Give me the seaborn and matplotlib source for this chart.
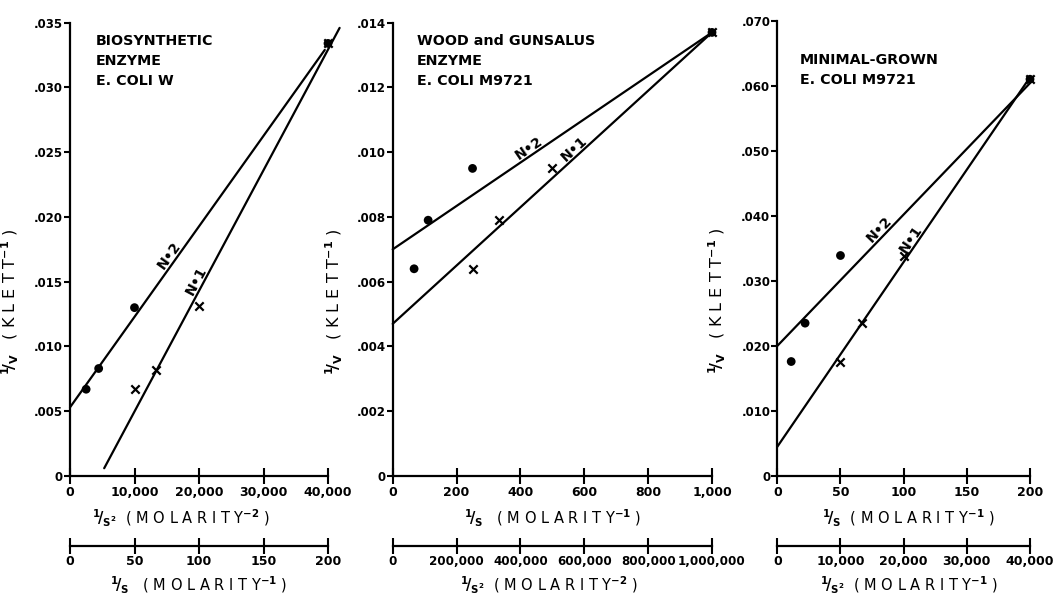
import numpy as np
import pandas as pd
import matplotlib
matplotlib.use("Agg")
import matplotlib.pyplot as plt
import seaborn as sns

# Panel 1: biosynthetic enzyme, E. coli W  (primary x = 1/S^2)
bio_x_n2 = [2500, 4444, 10000, 40000]
bio_y_n2 = [0.0067, 0.0083, 0.0130, 0.0334]
bio_x_n1 = [10000, 13333, 20000, 40000]
bio_y_n1 = [0.0067, 0.0082, 0.0131, 0.0334]
bio_fit_n2_x = [0, 39500]
bio_fit_n2_y = [0.0053, 0.0329]
bio_fit_n1_x = [5300, 41800]
bio_fit_n1_y = [0.0006, 0.0346]

# Panel 2: Wood and Gunsalus enzyme, E. coli M9721  (primary x = 1/S)
wg_x_n2 = [67, 111, 250, 1000]
wg_y_n2 = [0.0064, 0.0079, 0.0095, 0.0137]
wg_x_n1 = [250, 333, 500, 1000]
wg_y_n1 = [0.0064, 0.0079, 0.0095, 0.0137]
wg_fit_n2_x = [0, 1000]
wg_fit_n2_y = [0.0070, 0.0137]
wg_fit_n1_x = [0, 1000]
wg_fit_n1_y = [0.0047, 0.0137]

# Panel 3: minimal-grown, E. coli M9721  (primary x = 1/S)
min_x_n2 = [11, 22, 50, 200]
min_y_n2 = [0.0176, 0.0235, 0.0339, 0.0610]
min_x_n1 = [50, 67, 100, 200]
min_y_n1 = [0.0176, 0.0235, 0.0339, 0.0610]
min_fit_n2_x = [0, 200]
min_fit_n2_y = [0.0200, 0.0604]
min_fit_n1_x = [0, 200]
min_fit_n1_y = [0.0045, 0.0613]

# axis ticks / labels
bio_xticks = [0, 10000, 20000, 30000, 40000]
bio_xticklabels = ["0", "10,000", "20,000", "30,000", "40,000"]
bio_yticks = [0, 0.005, 0.010, 0.015, 0.020, 0.025, 0.030, 0.035]
bio_yticklabels = ["0", ".005", ".010", ".015", ".020", ".025", ".030", ".035"]
bio_secticks = [0, 50, 100, 150, 200]
bio_secticklabels = ["0", "50", "100", "150", "200"]

wg_xticks = [0, 200, 400, 600, 800, 1000]
wg_xticklabels = ["0", "200", "400", "600", "800", "1,000"]
wg_yticks = [0, 0.002, 0.004, 0.006, 0.008, 0.010, 0.012, 0.014]
wg_yticklabels = ["0", ".002", ".004", ".006", ".008", ".010", ".012", ".014"]
wg_secticks = [0, 200000, 400000, 600000, 800000, 1000000]
wg_secticklabels = ["0", "200,000", "400,000", "600,000", "800,000", "1,000,000"]

min_xticks = [0, 50, 100, 150, 200]
min_xticklabels = ["0", "50", "100", "150", "200"]
min_yticks = [0, 0.010, 0.020, 0.030, 0.040, 0.050, 0.060, 0.070]
min_yticklabels = ["0", ".010", ".020", ".030", ".040", ".050", ".060", ".070"]
min_secticks = [0, 10000, 20000, 30000, 40000]
min_secticklabels = ["0", "10,000", "20,000", "30,000", "40,000"]

# label positions along the fitted lines (x in data units)
bio_label_x = [16300, 20600]
wg_label_x = [439, 583]
min_label_x = [85, 110]

INV_S = r"$^{1}\!/_{S}$"
INV_S2 = r"$^{1}\!/_{S^{2}}$"
MOL1 = r"( M O L A R I T Y$^{-1}$ )"
MOL2 = r"( M O L A R I T Y$^{-2}$ )"
YLAB = r"$^{1}\!/_{V}$   ( K L E T T$^{-1}$ )"

sns.set_style("ticks")
plt.rcParams["font.family"] = ["DejaVu Sans"]
plt.rcParams["font.weight"] = "bold"
plt.rcParams["mathtext.fontset"] = "dejavusans"
plt.rcParams["mathtext.default"] = "bf"
for key in ["text.color", "axes.labelcolor", "axes.edgecolor",
            "xtick.color", "ytick.color"]:
    plt.rcParams[key] = "black"


def line_angle(ax, xs, ys):
    p = ax.transData.transform(np.column_stack([xs, ys]))
    return np.degrees(np.arctan2(p[1, 1] - p[0, 1], p[1, 0] - p[0, 0]))


def draw_panel(fig, rect, sec_bottom, p):
    ax = fig.add_axes(rect)
    ax.set_xlim(p["xticks"][0], p["xticks"][-1])
    ax.set_ylim(p["yticks"][0], p["yticks"][-1])

    for fx, fy in [p["fit_n2"], p["fit_n1"]]:
        sns.lineplot(x=fx, y=fy, ax=ax, color="black", linewidth=1.6,
                     clip_on=False, legend=False)
    sns.scatterplot(x=p["n2"][0], y=p["n2"][1], ax=ax, marker="o", s=40,
                    color="black", edgecolor="none", clip_on=False, zorder=3)
    sns.scatterplot(x=p["n1"][0], y=p["n1"][1], ax=ax, marker="x", s=36,
                    color="black", linewidth=1.6, clip_on=False, zorder=3)

    # N=2 / N=1 labels riding on the lines
    for (fx, fy), lx, txt in zip([p["fit_n2"], p["fit_n1"]], p["label_x"],
                                 ["N\u20222", "N\u20221"]):
        ly = np.interp(lx, fx, fy)
        ang = line_angle(ax, fx, fy)
        ax.text(lx, ly, txt, rotation=ang, rotation_mode="anchor",
                ha="center", va="bottom", fontsize=10, fontweight="bold")

    ax.text(p["title_xy"][0], p["title_xy"][1], p["title"], transform=ax.transAxes,
            ha="left", va="top", fontsize=10.3, fontweight="bold", linespacing=1.55)

    ax.set_xticks(p["xticks"])
    ax.set_xticklabels(p["xticklabels"])
    ax.set_yticks(p["yticks"])
    ax.set_yticklabels(p["yticklabels"])
    ax.tick_params(axis="x", direction="inout", length=12, width=1.5,
                   labelsize=9, pad=1)
    ax.tick_params(axis="y", direction="out", length=4, width=1.5,
                   labelsize=8.5, pad=1)
    for side in ["top", "right"]:
        ax.spines[side].set_visible(False)
    for side in ["left", "bottom"]:
        ax.spines[side].set_linewidth(1.6)
    ax.set_xlabel(p["xlabel"], fontsize=10.5)
    ax.xaxis.set_label_coords(p["xlabel_pos"], -0.07)
    ax.set_ylabel(YLAB, fontsize=11.5)
    ax.yaxis.set_label_coords(p["ylabel_pos"], 0.385)

    # secondary scale drawn as its own bare axis below
    sec = fig.add_axes([rect[0], sec_bottom, rect[2], 0.04])
    sec.patch.set_visible(False)
    for side in ["top", "right", "left"]:
        sec.spines[side].set_visible(False)
    sec.spines["bottom"].set_linewidth(1.6)
    sec.set_xlim(p["secticks"][0], p["secticks"][-1])
    sec.set_xticks(p["secticks"])
    sec.set_xticklabels(p["secticklabels"])
    sec.set_yticks([])
    sec.tick_params(axis="x", direction="inout", length=12, width=1.5,
                    labelsize=p["sec_size"], pad=1)
    sec.set_xlabel(p["seclabel"], fontsize=10.5)
    sec.xaxis.set_label_coords(p["seclabel_pos"], -1.22)
    return ax


panels = [
    dict(n2=(bio_x_n2, bio_y_n2), n1=(bio_x_n1, bio_y_n1),
         fit_n2=(bio_fit_n2_x, bio_fit_n2_y), fit_n1=(bio_fit_n1_x, bio_fit_n1_y),
         label_x=bio_label_x, title="BIOSYNTHETIC\nENZYME\nE. COLI W",
         title_xy=(0.10, 0.975),
         xticks=bio_xticks, xticklabels=bio_xticklabels,
         yticks=bio_yticks, yticklabels=bio_yticklabels,
         secticks=bio_secticks, secticklabels=bio_secticklabels, sec_size=9,
         xlabel=INV_S2 + "  " + MOL2, xlabel_pos=0.43,
         seclabel=INV_S + "   " + MOL1, seclabel_pos=0.50, ylabel_pos=-0.19),
    dict(n2=(wg_x_n2, wg_y_n2), n1=(wg_x_n1, wg_y_n1),
         fit_n2=(wg_fit_n2_x, wg_fit_n2_y), fit_n1=(wg_fit_n1_x, wg_fit_n1_y),
         label_x=wg_label_x, title="WOOD and GUNSALUS\nENZYME\nE. COLI M9721",
         title_xy=(0.075, 0.975),
         xticks=wg_xticks, xticklabels=wg_xticklabels,
         yticks=wg_yticks, yticklabels=wg_yticklabels,
         secticks=wg_secticks, secticklabels=wg_secticklabels, sec_size=8.6,
         xlabel=INV_S + "   " + MOL1, xlabel_pos=0.50,
         seclabel=INV_S2 + "  " + MOL2, seclabel_pos=0.49, ylabel_pos=-0.15),
    dict(n2=(min_x_n2, min_y_n2), n1=(min_x_n1, min_y_n1),
         fit_n2=(min_fit_n2_x, min_fit_n2_y), fit_n1=(min_fit_n1_x, min_fit_n1_y),
         label_x=min_label_x, title="MINIMAL-GROWN\nE. COLI M9721",
         title_xy=(0.09, 0.93),
         xticks=min_xticks, xticklabels=min_xticklabels,
         yticks=min_yticks, yticklabels=min_yticklabels,
         secticks=min_secticks, secticklabels=min_secticklabels, sec_size=9,
         xlabel=INV_S + "  " + MOL1, xlabel_pos=0.52,
         seclabel=INV_S2 + "  " + MOL1, seclabel_pos=0.52, ylabel_pos=-0.195),
]

W, H = 1054, 599
fig = plt.figure(figsize=(W / 100, H / 100), dpi=100)
fig.patch.set_facecolor("white")

# axes boxes in pixels: (left, right, top of y-range, y=0 row)
boxes = [(70, 328, 22.7, 476), (392.7, 712, 22.7, 476), (777.3, 1030, 20.7, 476)]
sec_row = 545.7
for (l, r, t, b), p in zip(boxes, panels):
    rect = [l / W, (H - b) / H, (r - l) / W, (b - t) / H]
    draw_panel(fig, rect, (H - sec_row) / H, p)

fig.savefig("out.png", dpi=100)
